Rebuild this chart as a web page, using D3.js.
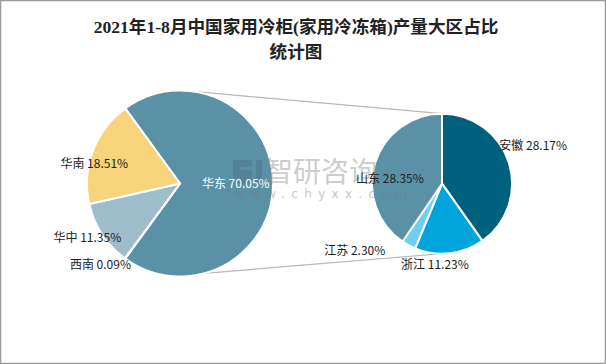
<!DOCTYPE html>
<html><head><meta charset="utf-8">
<script src="https://cdn.jsdelivr.net/npm/d3@7/dist/d3.min.js"></script>
<style>body{margin:0;background:#fff}svg{display:block}</style>
</head><body>
<svg id="c" width="606" height="364"></svg>
<script>
// ---- data ----
const titleLines = ["2021年1-8月中国家用冷柜(家用冷冻箱)产量大区占比", "统计图"];
const mainNames = ["华东", "西南", "华中", "华南"];
const mainValues = [70.05, 0.09, 11.35, 18.51];
const subNames = ["安徽", "浙江", "江苏", "山东"];
const subValues = [28.17, 11.23, 2.30, 28.35];

// ---- layout/style ----
const W = 606, H = 364;
const mainColors = {"华东":"#5b91a7","西南":"#c9d9e0","华中":"#9dbdcb","华南":"#f7d37b"};
const subColors = {"安徽":"#00617f","浙江":"#00a6db","江苏":"#6ecff5","山东":"#5b91a7"};
const L = {cx:180, cy:183.5, r:93};
const R = {cx:442, cy:183.7, r:70};
// label placement: [angle deg, radius factor, color]
const mainLabelPos = {"华东":[89,0.6,"#fff"],"华南":[284,0.95,"#222"],"华中":[240,1.15,"#222"],"西南":[225,1.21,"#222"]};
const subLabelPos = {"安徽":[66.5,1.42,"#222"],"山东":[277,0.75,"#222"],"江苏":[233,1.56,"#222"],"浙江":[185,1.15,"#222"]};

const svg = d3.select("#c");
svg.append("rect").attr("x",0.5).attr("y",0.5).attr("width",W-1).attr("height",H-1)
  .attr("fill","#fff").attr("stroke","#9a9a9a").attr("stroke-width",1.5);

// title
svg.append("text").attr("x",296).attr("text-anchor","middle")
  .attr("font-family","'Liberation Serif','Noto Sans CJK SC',serif").attr("font-weight","bold")
  .attr("font-size",17.6).attr("fill","#222")
  .selectAll("tspan").data(titleLines).join("tspan")
  .attr("x",296).attr("y",(d,i)=>33+i*25).text(d=>d);

const rad = d => d*Math.PI/180;
const total = d3.sum(mainValues);
const bigShare = mainValues[0]/total*360;
const mainStart = 90 - bigShare/2;

const mainPie = d3.pie().sort(null).startAngle(rad(mainStart)).endAngle(rad(mainStart+360));
const subPie = d3.pie().sort(null).startAngle(0).endAngle(2*Math.PI);

// connector lines
const pt = (c, ang, r) => [c.cx + r*Math.sin(rad(ang)), c.cy - r*Math.cos(rad(ang))];
const conn = [[pt(L,8,L.r), pt(R,0,R.r)], [pt(L,165,L.r), pt(R,180,R.r)]];
svg.append("g").selectAll("line").data(conn).join("line")
  .attr("x1",d=>d[0][0]).attr("y1",d=>d[0][1]).attr("x2",d=>d[1][0]).attr("y2",d=>d[1][1])
  .attr("stroke","#b8b8b8").attr("stroke-width",1.2);

function drawPie(c, names, values, colors, pieGen) {
  const g = svg.append("g").attr("transform",`translate(${c.cx},${c.cy})`);
  const arc = d3.arc().innerRadius(0).outerRadius(c.r);
  const arcs = pieGen(values);
  g.selectAll("path").data(arcs).join("path")
    .attr("d",arc).attr("fill",(d,i)=>colors[names[i]])
    .attr("stroke","#fff").attr("stroke-width",2).attr("stroke-linejoin","round");
  return arcs;
}
drawPie(L, mainNames, mainValues, mainColors, mainPie);
drawPie(R, subNames, subValues, subColors, subPie);

// watermark
const wm = svg.append("g").attr("opacity",0.42);
wm.append("path").attr("d","M233,160 h19 v7 h-12 v3 h12 v14 h-19 z M256,160 h6 v24 h-6 z").attr("fill","#4f6f88");
wm.append("text").attr("x",265).attr("y",182).attr("font-family","'Noto Sans CJK SC',sans-serif")
  .attr("font-size",28).attr("fill","#8a8a8a").text("智研咨询");
wm.append("text").attr("x",234).attr("y",198).attr("font-family","'DejaVu Sans',sans-serif")
  .attr("font-size",12).attr("letter-spacing",6.3).attr("fill","#7a7a7a").text("www.chyxx.com");

// labels
function labels(c, names, values, pos) {
  const g = svg.append("g").attr("font-family","'Noto Sans CJK SC','Microsoft YaHei',sans-serif").attr("font-size",12);
  names.forEach((n,i)=>{
    const p = pos[n];
    const [x,y] = pt(c, p[0], p[1]*c.r);
    g.append("text").attr("x",x).attr("y",y).attr("text-anchor","middle")
      .attr("dominant-baseline","central").attr("fill",p[2])
      .text(n + " " + values[i].toFixed(2) + "%");
  });
}
labels(L, mainNames, mainValues, mainLabelPos);
labels(R, subNames, subValues, subLabelPos);
</script>
</body></html>
